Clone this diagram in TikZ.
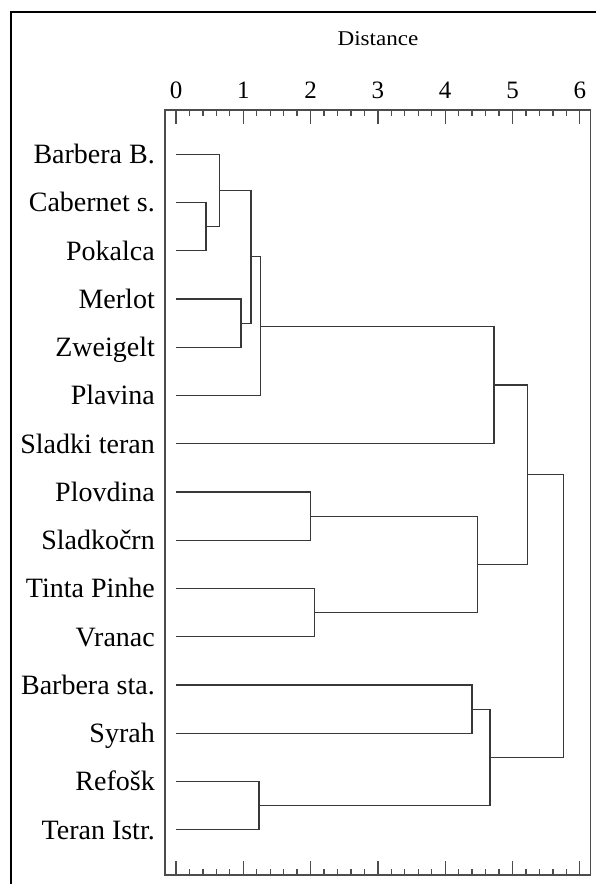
\documentclass[tikz,border=0pt]{standalone}
\usepackage{fontspec}
\setmainfont{Liberation Serif}
\begin{document}
\begin{tikzpicture}[x=1pt,y=-1pt,
  treeline/.style={draw=black!78,line width=1.3pt},
  axisline/.style={draw=black!70,line width=1.3pt},
  leaflabel/.style={anchor=base east,inner sep=0pt,font=\fontsize{28}{28}\selectfont},
  ticklabel/.style={anchor=base,inner sep=0pt,font=\fontsize{25}{25}\selectfont},
  titlelabel/.style={anchor=base,inner sep=0pt,font=\fontsize{21}{21}\selectfont,xscale=1.1}]
\useasboundingbox (0,0) rectangle (596,884);
\fill[white] (0,0) rectangle (596,884);
% outer frame
\draw[black,line width=2pt] (11,12) rectangle (610,900);

% plot box
\draw[axisline] (165,110) rectangle (590.3,875);

% axis ticks (top and bottom)
\foreach \d in {0,1,...,6}{
  \draw[axisline] ({176+67.3*\d},110) -- ++(0,14);
  \draw[axisline] ({176+67.3*\d},875) -- ++(0,-14);
  \node[ticklabel] (t\d) at ({176+67.3*\d},98.3) {\d};
}
\foreach \m in {1,...,29}{
  \pgfmathtruncatemacro{\r}{mod(\m,5)}
  \ifnum\r>0
    \draw[axisline] ({176+67.3*\m/5},110) -- ++(0,6);
    \draw[axisline] ({176+67.3*\m/5},875) -- ++(0,-6);
  \fi
}
\node[titlelabel] (title) at (378,45) {Distance};

% leaves
\foreach \i/\name in {0/Barbera B.,1/Cabernet s.,2/Pokalca,3/Merlot,4/Zweigelt,
  5/Plavina,6/Sladki teran,7/Plovdina,8/Sladkočrn,9/Tinta Pinhe,10/Vranac,
  11/Barbera sta.,12/Syrah,13/Refošk,14/Teran Istr.}{
  \coordinate (l\i) at (176,{154.3+48.25*\i});
  \node[leaflabel] (n\i) at (155,{154.3+48.25*\i+9.3}) {\name};
}

% merge points
\coordinate (mA) at (206,226.7);
\coordinate (mB) at (219.3,190.5);
\coordinate (mC) at (241,323.2);
\coordinate (mD) at (251,256.8);
\coordinate (mE) at (260.3,326.2);
\coordinate (mF) at (494,385.0);
\coordinate (mG) at (310.7,516.2);
\coordinate (mH) at (314.7,612.7);
\coordinate (mI) at (477.3,564.4);
\coordinate (mJ) at (527.7,474.7);
\coordinate (mK) at (472,709.2);
\coordinate (mL) at (259,805.7);
\coordinate (mM) at (490,757.4);
\coordinate (root) at (563.3,616.1);

% brackets
\draw[treeline] (l1) -| (mA) |- (l2);
\draw[treeline] (l0) -| (mB) |- (mA);
\draw[treeline] (l3) -| (mC) |- (l4);
\draw[treeline] (mB) -| (mD) |- (mC);
\draw[treeline] (mD) -| (mE) |- (l5);
\draw[treeline] (mE) -| (mF) |- (l6);
\draw[treeline] (l7) -| (mG) |- (l8);
\draw[treeline] (l9) -| (mH) |- (l10);
\draw[treeline] (mG) -| (mI) |- (mH);
\draw[treeline] (mF) -| (mJ) |- (mI);
\draw[treeline] (l11) -| (mK) |- (l12);
\draw[treeline] (l13) -| (mL) |- (l14);
\draw[treeline] (mK) -| (mM) |- (mL);
\draw[treeline] (mJ) -| (root) |- (mM);
\end{tikzpicture}
\end{document}
